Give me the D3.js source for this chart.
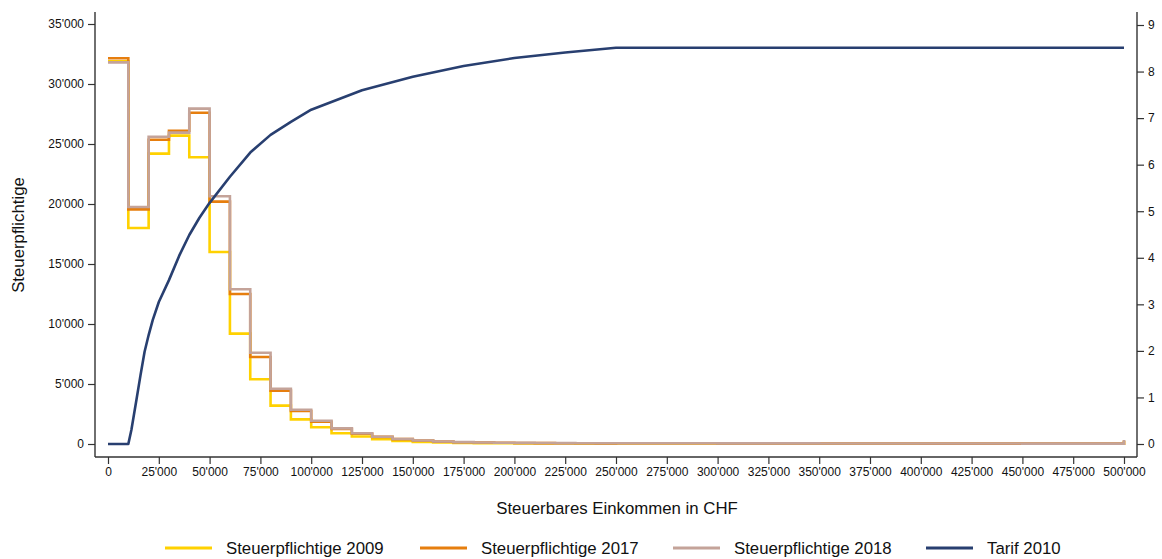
<!DOCTYPE html>
<html>
<head>
<meta charset="utf-8">
<script src="https://cdn.jsdelivr.net/npm/d3@7"></script>
<style>
  html, body { margin: 0; padding: 0; background: #fff; }
  svg { display: block; font-family: "Liberation Sans", Arial, sans-serif; }
</style>
</head>
<body>
<svg id="chart" width="1162" height="559"></svg>
<script>
// ---- Data ----
const binEdges = [0, 10000, 20000, 30000, 40000, 50000, 60000, 70000, 80000, 90000,
  100000, 110000, 120000, 130000, 140000, 150000, 160000, 170000, 180000, 190000,
  200000, 210000, 220000, 230000, 240000, 250000, 300000, 350000, 400000, 450000, 500000];
// values per bin (last value = above 500'000, drawn at the end edge)
const steuer2009 = [31900, 18000, 24200, 25700, 23900, 16000, 9200, 5400, 3200, 2050,
  1390, 900, 620, 400, 260, 170, 120, 90, 70, 60,
  50, 45, 40, 35, 30, 40, 30, 25, 20, 15, 250];
const steuer2017 = [32150, 19550, 25350, 26100, 27600, 20200, 12500, 7250, 4450, 2750,
  1850, 1250, 860, 590, 410, 280, 200, 150, 120, 100,
  85, 75, 65, 60, 55, 60, 50, 40, 35, 30, 300];
const steuer2018 = [31800, 19750, 25600, 25950, 27950, 20650, 12900, 7600, 4600, 2850,
  1940, 1300, 890, 610, 420, 290, 210, 160, 130, 110,
  90, 80, 70, 65, 60, 65, 55, 45, 40, 35, 340];
const tarifIncome = [0, 10000, 11500, 14000, 16000, 18000, 20000, 22000, 25000, 30000,
  35000, 40000, 45000, 50000, 60000, 70000, 80000, 90000, 100000, 125000,
  150000, 175000, 200000, 225000, 250000, 500000];
const tarifRate = [0, 0, 0.3, 0.95, 1.48, 1.98, 2.34, 2.66, 3.05, 3.52,
  4.04, 4.49, 4.86, 5.18, 5.74, 6.26, 6.64, 6.92, 7.18, 7.6,
  7.89, 8.12, 8.29, 8.41, 8.51, 8.51];
const xTicks = d3.range(0, 500001, 25000);
const yLeftTicks = d3.range(0, 35001, 5000);
const yRightTicks = d3.range(0, 10, 1);
const legendLabels = ["Steuerpflichtige 2009", "Steuerpflichtige 2017", "Steuerpflichtige 2018", "Tarif 2010"];
const colors = ["#FFD100", "#E67E0E", "#C4A399", "#283F70"];

// ---- Layout ----
const svg = d3.select("#chart");
const pLeft = 95, pRight = 1137, pTop = 12, pBottom = 457;

const fmt = d3.formatLocale({decimal: ".", thousands: "'", grouping: [3], currency: ["", ""]}).format(",");

const x = d3.scaleLinear().domain([-6400, 506400]).range([pLeft, pRight]);
const yL = d3.scaleLinear().domain([-1083, 36000]).range([pBottom, pTop]);
const yR = d3.scaleLinear().domain([-0.2793, 9.2793]).range([pBottom, pTop]);

// step series
function stepPoints(vals) {
  const pts = [];
  for (let i = 0; i < binEdges.length - 1; i++) pts.push([binEdges[i], vals[i]]);
  pts.push([binEdges[binEdges.length - 1], vals[vals.length - 1]]);
  return pts;
}
const stepLine = d3.line().x(d => x(d[0])).y(d => yL(d[1])).curve(d3.curveStepAfter);
[steuer2009, steuer2017, steuer2018].forEach((vals, i) => {
  svg.append("path")
    .attr("d", stepLine(stepPoints(vals)))
    .attr("fill", "none")
    .attr("stroke", colors[i])
    .attr("stroke-width", 2.6)
    .attr("stroke-linejoin", "miter");
});

// tarif
const tarifLine = d3.line().x(d => x(d[0])).y(d => yR(d[1]));
svg.append("path")
  .attr("d", tarifLine(tarifIncome.map((v, i) => [v, tarifRate[i]])))
  .attr("fill", "none")
  .attr("stroke", colors[3])
  .attr("stroke-width", 2.6)
  .attr("stroke-linejoin", "round");

// axes
const axisColor = "#333";
function styleAxis(g) {
  g.select(".domain").remove();
  g.selectAll(".tick line").attr("stroke", axisColor).attr("stroke-width", 1.2);
  g.selectAll(".tick text").attr("fill", "#111").style("font-size", "12px")
    .style("font-family", '"Liberation Sans", Arial, sans-serif');
}
const gx = svg.append("g").attr("transform", `translate(0,${pBottom})`)
  .call(d3.axisBottom(x).tickValues(xTicks).tickFormat(fmt).tickSizeInner(7).tickSizeOuter(0).tickPadding(3));
styleAxis(gx);
const gyl = svg.append("g").attr("transform", `translate(${pLeft},0)`)
  .call(d3.axisLeft(yL).tickValues(yLeftTicks).tickFormat(fmt).tickSizeInner(7).tickSizeOuter(0).tickPadding(4));
styleAxis(gyl);
const gyr = svg.append("g").attr("transform", `translate(${pRight},0)`)
  .call(d3.axisRight(yR).tickValues(yRightTicks).tickFormat(d3.format("d")).tickSizeInner(7).tickSizeOuter(0).tickPadding(4));
styleAxis(gyr);

// axis lines
svg.append("line").attr("x1", pLeft).attr("x2", pRight).attr("y1", pBottom).attr("y2", pBottom)
  .attr("stroke", axisColor).attr("stroke-width", 1.4);
svg.append("line").attr("x1", pLeft).attr("x2", pLeft).attr("y1", pTop).attr("y2", pBottom)
  .attr("stroke", axisColor).attr("stroke-width", 1.4);
svg.append("line").attr("x1", pRight).attr("x2", pRight).attr("y1", pTop).attr("y2", pBottom)
  .attr("stroke", axisColor).attr("stroke-width", 1.4);

// titles
svg.append("text").attr("x", 617).attr("y", 514).attr("text-anchor", "middle")
  .style("font-size", "16.8px").attr("fill", "#111").text("Steuerbares Einkommen in CHF");
svg.append("text").attr("transform", "translate(24,235) rotate(-90)").attr("text-anchor", "middle")
  .style("font-size", "16.8px").attr("fill", "#111").text("Steuerpflichtige");

// legend
const legendX = [165, 420, 673, 926];
legendLabels.forEach((lab, i) => {
  const g = svg.append("g").attr("transform", `translate(${legendX[i]},548)`);
  g.append("line").attr("x1", 0).attr("x2", 47).attr("y1", 0).attr("y2", 0)
    .attr("stroke", colors[i]).attr("stroke-width", 2.8);
  g.append("text").attr("x", 61).attr("y", 6).style("font-size", "16.8px").attr("fill", "#111").text(lab);
});
</script>
</body>
</html>
